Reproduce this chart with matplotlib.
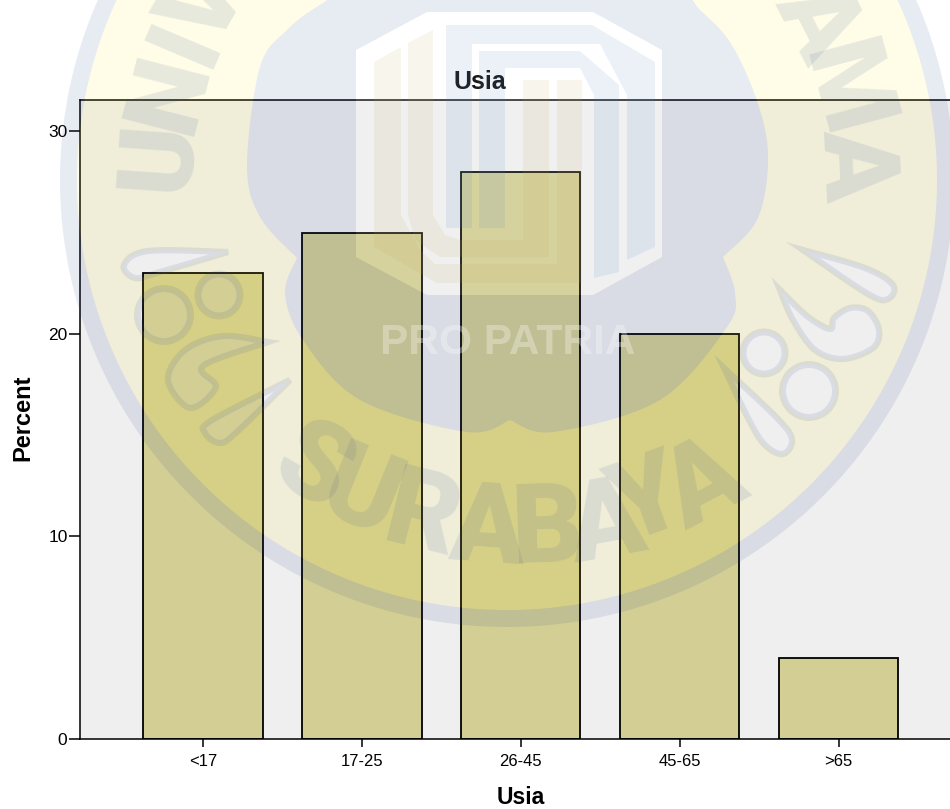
import numpy as np
import matplotlib
matplotlib.use('Agg')
import matplotlib.pyplot as plt
from matplotlib.path import Path
from matplotlib.patches import PathPatch, Circle

plt.rcParams['font.family'] = ['Liberation Sans', 'DejaVu Sans']

categories = ['<17', '17-25', '26-45', '45-65', '>65']
percent = [23, 25, 28, 20, 4]
y_ticks = [0, 10, 20, 30]

BLUE = '#2d4991'
YELLOW = '#ffeb19'
CREAM = '#bfa453'
STRIPE = '#4980bf'
WM_ALPHA = 0.11

# watermark outlines, in image pixels
CENTER = (507, 180)
BLOB_PARTS = [
    [(723, 257), (757, 220), (768, 163), (760, 110), (733, 47), (700, 10), (640, -40), (400, -40),
     (323, 3), (287, 30), (260, 67), (247, 165), (260, 217), (297, 258)],
    [(297, 258), (285, 293), (303, 340), (360, 400), (467, 432), (510, 420)],
    [(510, 420), (553, 432), (660, 400), (727, 327), (735, 293), (723, 257)],
]
OCTAGON = [(356, 50), (427, 12), (593, 12), (662, 50), (662, 257), (593, 295), (427, 295), (356, 257)]
STRIPE_A = [(446, 228), (446, 25), (592, 25), (655, 62), (655, 247), (627, 260), (627, 95),
            (600, 44), (472, 44), (472, 228)]
STRIPE_B = [(479, 228), (479, 51), (580, 51), (619, 85), (619, 272), (594, 278), (594, 95),
            (580, 68), (505, 68), (505, 228)]
CREAM_A = [(374, 62), (401, 47), (401, 215), (420, 250), (435, 264), (557, 264), (557, 80),
           (582, 80), (582, 283), (437, 283), (374, 247)]
CREAM_B = [(408, 43), (433, 30), (433, 215), (445, 235), (460, 240), (523, 240), (523, 80),
           (549, 80), (549, 257), (440, 257), (415, 240), (408, 215)]
RINGS = [(219, 295, 21), (164, 315, 26.5), (764, 353, 21), (809, 391, 26.5)]
DROPS = [
    [(228, 252), (148, 251), (124, 265), (135, 278), (160, 272), (228, 252)],
    [(268, 342), (223, 336), (185, 350), (168, 380), (190, 408), (216, 387), (203, 366), (268, 342)],
    [(290, 380), (212, 420), (205, 433), (220, 443), (238, 431), (290, 380)],
    [(803, 250), (865, 268), (893, 285), (888, 299), (868, 294), (803, 250)],
    [(780, 290), (793, 320), (815, 350), (843, 359), (873, 348), (879, 330), (868, 311), (850, 308),
     (834, 318), (830, 329), (807, 316), (780, 290)],
    [(724, 368), (778, 419), (792, 440), (783, 454), (765, 445), (749, 420), (724, 368)],
]
# letters of the ring text that fall inside the picture, with their angle around the centre
RING_LETTERS = [('U', 176), ('N', 165.6), ('I', 157), ('V', 150), ('A', 27), ('M', 15), ('A', 2.5)]
SURABAYA = [('S', 312, 470, -30), ('U', 360, 497, -22), ('R', 422, 520, -14), ('A', 487, 532, -4),
            ('B', 548, 532, 2), ('A', 606, 527, 10), ('Y', 648, 504, 20), ('A', 705, 487, 28)]


def signed_area(points):
    pts = np.array(points, dtype=float)
    return 0.5 * np.sum(pts[:, 0] * np.roll(pts[:, 1], -1) - np.roll(pts[:, 0], -1) * pts[:, 1])


def smooth(points, steps=12):
    """Catmull-Rom spline through the points, ends kept sharp."""
    pts = np.array(points, dtype=float)
    pts = np.vstack([pts[0], pts, pts[-1]])
    out = []
    for i in range(1, len(pts) - 2):
        p0, p1, p2, p3 = pts[i - 1], pts[i], pts[i + 1], pts[i + 2]
        for t in np.linspace(0, 1, steps, endpoint=False):
            out.append(0.5 * (2 * p1 + (p2 - p0) * t + (2 * p0 - 5 * p1 + 4 * p2 - p3) * t ** 2
                              + (3 * p1 - p0 - 3 * p2 + p3) * t ** 3))
    out.append(pts[-1])
    return np.array(out)


def shape_with_holes(outer, holes=()):
    """Path of a polygon with holes, opposite winding so that the holes stay empty."""
    verts, codes = [], []
    for i, pts in enumerate([outer] + list(holes)):
        pts = np.array(pts, dtype=float)
        if (signed_area(pts) > 0) != (i == 0):
            pts = pts[::-1]
        verts.extend(pts.tolist() + [pts[0].tolist()])
        codes.extend([Path.MOVETO] + [Path.LINETO] * (len(pts) - 1) + [Path.CLOSEPOLY])
    return Path(verts, codes)


def circle_points(r, center=CENTER, n=360):
    t = np.linspace(0, 2 * np.pi, n, endpoint=False)
    return np.column_stack([center[0] + r * np.cos(t), center[1] + r * np.sin(t)])


def draw_watermark(fig):
    wm = fig.add_axes([0, 0, 1, 1], zorder=5)
    wm.set_xlim(0, 950)
    wm.set_ylim(809, 0)
    wm.axis('off')
    wm.patch.set_alpha(0)

    blob = np.vstack([smooth(part)[:-1] for part in BLOB_PARTS])
    drops = [smooth(pts)[:-1] for pts in DROPS]
    ring_holes = [circle_points(r, (x, y), 90) for x, y, r in RINGS]

    # the ornaments are left out of the yellow disc, as in the logo
    wm.add_patch(PathPatch(shape_with_holes(circle_points(430), [blob] + drops + ring_holes),
                           fc=YELLOW, ec='none', alpha=0.1))
    wm.add_patch(PathPatch(shape_with_holes(circle_points(447), [circle_points(430)]),
                           fc=BLUE, ec='none', alpha=WM_ALPHA))
    wm.add_patch(PathPatch(shape_with_holes(blob, [OCTAGON]), fc=BLUE, ec='none', alpha=WM_ALPHA))
    wm.add_patch(PathPatch(shape_with_holes(OCTAGON), fc='white', ec='none', alpha=0.1))
    for pts in [STRIPE_A, STRIPE_B]:
        wm.add_patch(PathPatch(shape_with_holes(pts), fc=STRIPE, ec='none', alpha=WM_ALPHA))
    for pts in [CREAM_A, CREAM_B]:
        wm.add_patch(PathPatch(shape_with_holes(pts), fc=CREAM, ec='none', alpha=WM_ALPHA))

    for x, y, r in RINGS:
        wm.add_patch(Circle((x, y), r, fc='none', ec=BLUE, lw=5, alpha=WM_ALPHA))
    for line in drops:
        wm.add_patch(PathPatch(Path(np.vstack([line, line[0]]), closed=True), fc='none', ec=BLUE,
                               lw=4.5, alpha=WM_ALPHA, joinstyle='miter'))

    for ch, deg in RING_LETTERS:
        x = CENTER[0] + 347 * np.cos(np.radians(deg))
        y = CENTER[1] - 347 * np.sin(np.radians(deg))
        wm.text(x, y, ch, fontsize=76, fontweight=900, color=BLUE, alpha=WM_ALPHA, family='Roboto',
                rotation=deg - 90, rotation_mode='anchor', ha='center', va='center')

    for ch, x, y, rot in SURABAYA:
        wm.text(x, y, ch, fontsize=80, fontweight=900, color=BLUE, alpha=WM_ALPHA, family='Roboto',
                rotation=rot, rotation_mode='anchor', ha='center', va='center')

    wm.text(508, 343, 'PRO PATRIA', fontsize=30.5, fontweight='bold', color='white', alpha=0.3,
            ha='center', va='center')


fig = plt.figure(figsize=(9.5, 8.09), dpi=100, facecolor='white')
ax = fig.add_axes([80 / 950, (809 - 739) / 809, 870 / 950, (739 - 100) / 809])
ax.set_facecolor('#efefef')

x = np.arange(len(categories))
ax.bar(x, percent, width=0.75, color='#d2ce94', edgecolor='black', linewidth=1.3)

ax.set_xlim(-0.774, 4.70)
ax.set_ylim(0, 31.55)
ax.set_xticks(x, categories)
ax.set_yticks(y_ticks)
ax.tick_params(axis='x', length=6, width=1.1, labelsize=12, pad=4.5, colors='black')
ax.tick_params(axis='y', length=8, width=1.1, labelsize=12.5, pad=1, colors='black')
for side in ['left', 'bottom', 'top']:
    ax.spines[side].set_linewidth(1.1)
ax.spines['right'].set_visible(False)

fig.text(480 / 950, 1 - 82 / 809, 'Usia', fontsize=18, fontweight='bold', ha='center', va='center')
fig.text(521 / 950, 1 - 798 / 809, 'Usia', fontsize=16.5, fontweight='bold', ha='center', va='center')
fig.text(23 / 950, 1 - 418 / 809, 'Percent', fontsize=17, fontweight='bold', rotation=90,
         ha='center', va='center')

draw_watermark(fig)

fig.savefig('out.png', dpi=100)
